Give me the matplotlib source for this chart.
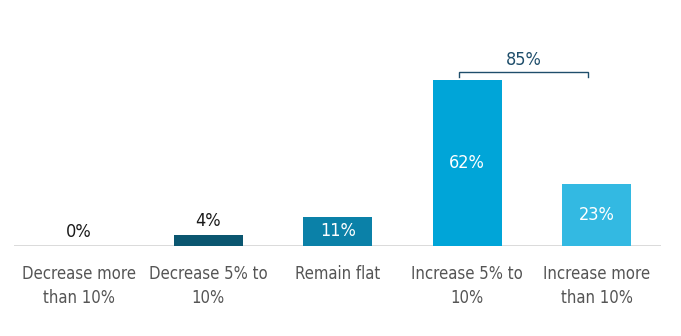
import matplotlib
matplotlib.use("Agg")
import matplotlib.pyplot as plt

categories = ["Decrease more\nthan 10%", "Decrease 5% to\n10%", "Remain flat",
              "Increase 5% to\n10%", "Increase more\nthan 10%"]
values = [0, 4, 11, 62, 23]
value_labels = ["0%", "4%", "11%", "62%", "23%"]
bar_colors = ["#0b5670", "#0b5670", "#0b81a8", "#00a5d8", "#33b9e2"]
bracket_label = "85%"
bracket_span = (3, 4)

FONT = dict(family="DejaVu Sans", stretch="condensed")

fig = plt.figure(figsize=(6.81, 3.36), dpi=100)
ax = fig.add_axes([0, 90 / 336, 1, 246 / 336])
x = list(range(len(values)))
ax.bar(x, values, width=0.533, color=bar_colors, zorder=2)
ax.set_xlim(-0.6105, 4.652)
ax.set_ylim(0, 91.9)
ax.axis("off")

# baseline
ax.plot([-0.5, len(values) - 0.5], [0, 0], color="#d4d4d4", lw=1.2, zorder=1,
        solid_capstyle="butt")

for xi, v, lab in zip(x, values, value_labels):
    if v >= 10:
        ax.text(xi, v / 2, lab, ha="center", va="center", color="white",
                fontsize=13, **FONT)
    else:
        ax.annotate(lab, (xi, v), xytext=(0, 10), textcoords="offset points",
                    ha="center", va="center", color="#1a1a1a", fontsize=13, **FONT)

for xi, cat in zip(x, categories):
    ax.annotate(cat, (xi, 0), xytext=(0, -14), textcoords="offset points",
                ha="center", va="top", color="#555555", fontsize=12,
                linespacing=1.4, **FONT)

# bracket
b0, b1 = bracket_span[0] - 0.06, bracket_span[1] - 0.07
top = 65
ax.plot([b0, b0, b1, b1], [top - 2, top, top, top - 2], color="#1f4e6b", lw=1.0,
        solid_joinstyle="miter")
ax.text((b0 + b1) / 2, top + 4.3, bracket_label, ha="center", va="center",
        color="#1f4e6b", fontsize=13, **FONT)

fig.savefig("out.png", dpi=100)
